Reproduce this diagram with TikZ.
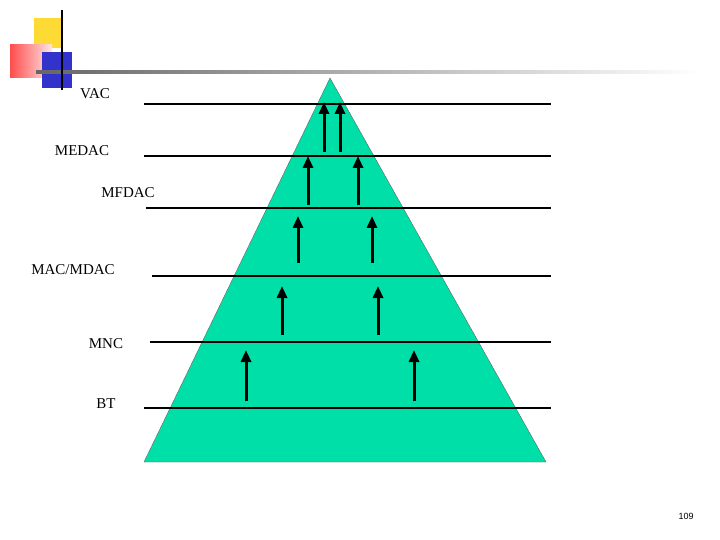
\documentclass[tikz,border=0pt]{standalone}
\usepackage{fontspec}
\setmainfont{Liberation Serif}
\newfontfamily\pgnum{Liberation Sans}
\usetikzlibrary{arrows.meta}
\begin{document}
\begin{tikzpicture}[x=1pt,y=-1pt,
  lvl/.style={line width=2.2pt},
  up/.style={line width=3pt,-{Triangle[length=12pt,width=10pt]}},
  lab/.style={font=\fontsize{15}{15}\selectfont,inner sep=0pt}]
\useasboundingbox (0,0) rectangle (720,540);
% decoration
\fill[yellow!70!orange!80] (34,18) rectangle (62,48);
\shade[left color=red!70, right color=red!10] (10,45) rectangle (52,78);
\fill[blue!75!black!80] (42,52) rectangle (72,88);
\shade[left color=black!60, right color=white] (36,71) rectangle (700,74);
\draw[line width=1.2pt] (62,10) -- (62,90);
% pyramid
\fill[fill={rgb,255:red,0;green,223;blue,168}, draw=black!60] (330,78) -- (546,462) -- (144,462) -- cycle;
\foreach \n/\y/\xa in {a/104/144,b/156/144,c/208/146,d/276/152,e/342/150,f/408/144}{
  \coordinate (l\n1) at (\xa,\y); \coordinate (l\n2) at (551,\y);
  \draw[lvl] (l\n1) -- (l\n2);}
\node[lab] (vac) at (95,94) {VAC};
\node[lab] (medac) at (82,151) {MEDAC};
\node[lab] (mfdac) at (128,193) {MFDAC};
\node[lab] (mac) at (73,270) {MAC/MDAC};
\node[lab] (mnc) at (106,344) {MNC};
\node[lab] (bt) at (106,404) {BT};
\foreach \i/\x/\yb/\yt in {1/324/152/102,2/340/152/102,3/308/205/156,4/358/205/156,5/298/263/216,6/372/263/216,7/282/335/286,8/378/335/286,9/246/401/350,10/414/401/350}{
  \coordinate (s\i) at (\x,\yb); \coordinate (t\i) at (\x,\yt);
  \draw[up] (s\i) -- (t\i);}
\node[font=\pgnum\fontsize{9}{9}\selectfont] (pg) at (686,516) {109};
\end{tikzpicture}
\end{document}
